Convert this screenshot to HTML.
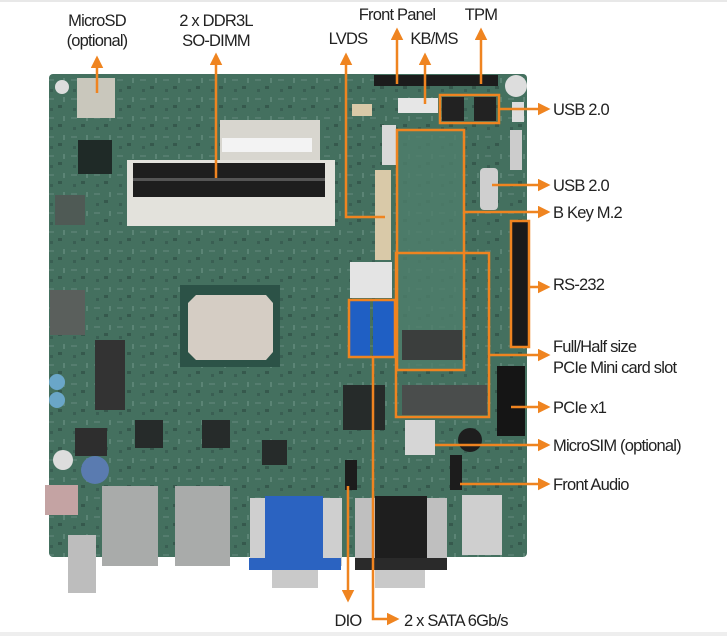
<!DOCTYPE html>
<html><head><meta charset="utf-8"><style>
html,body{margin:0;padding:0;background:#fff;}
svg{display:block}
text{font-family:"Liberation Sans",Arial,sans-serif;font-size:16.5px;fill:#222;letter-spacing:-0.8px}
</style></head><body>
<svg width="727" height="636" viewBox="0 0 727 636" xmlns="http://www.w3.org/2000/svg">
<defs>
<marker id="a" viewBox="0 0 10 10" refX="8" refY="5" markerWidth="5" markerHeight="5" orient="auto-start-reverse"><path d="M0,0 L10,5 L0,10 z" fill="#ef8420"/></marker>
<pattern id="tex" width="23" height="19" patternUnits="userSpaceOnUse">
<rect width="23" height="19" fill="#44705f"/>
<rect x="2" y="3" width="6" height="2" fill="#557d6f"/>
<rect x="12" y="10" width="4" height="3" fill="#36594d"/>
<rect x="17" y="2" width="2" height="5" fill="#5b8475"/>
<rect x="4" y="13" width="3" height="3" fill="#3a5f53"/>
</pattern>
</defs>
<rect x="0" y="0" width="727" height="2" fill="#e8e8e8"/>
<rect x="0" y="632" width="727" height="4" fill="#eeeeee"/>
<!-- board -->
<rect x="49" y="74" width="478" height="483" rx="4" fill="url(#tex)"/>
<rect x="396" y="130" width="68" height="240" fill="#4f7e6c" opacity="0.8"/>
<!-- microSD -->
<rect x="77" y="78" width="38" height="40" fill="#c9c7bc"/>
<rect x="55" y="80" width="14" height="14" rx="7" fill="#ddd"/>
<rect x="78" y="140" width="34" height="34" fill="#1f2a27"/>
<rect x="55" y="195" width="30" height="30" fill="#4f5a55"/>
<!-- DDR -->
<rect x="127" y="160" width="208" height="66" fill="#e3e2dc"/>
<rect x="133" y="163" width="192" height="34" fill="#1e1e1e"/>
<rect x="133" y="178" width="192" height="3" fill="#555"/>
<rect x="220" y="120" width="100" height="40" fill="#d8d6cf"/>
<rect x="222" y="138" width="90" height="14" fill="#f3f3f3"/>
<!-- LVDS connector -->
<rect x="375" y="170" width="16" height="90" fill="#d9c9a8"/>
<rect x="382" y="125" width="14" height="40" fill="#d9d9d9"/>
<!-- top headers -->
<rect x="374" y="75" width="124" height="11" fill="#1c1c1c"/>
<rect x="398" y="98" width="40" height="15" fill="#e6e6e6"/>
<rect x="352" y="104" width="20" height="12" fill="#d9c9a8"/>
<rect x="442" y="97" width="22" height="24" fill="#222"/>
<rect x="474" y="97" width="22" height="24" fill="#222"/>
<rect x="505" y="75" width="22" height="22" rx="11" fill="#ddd"/>
<rect x="512" y="102" width="12" height="20" fill="#ddd"/>
<rect x="480" y="168" width="18" height="42" rx="4" fill="#cfcfcf"/>
<rect x="510" y="130" width="12" height="40" fill="#ccc"/>
<!-- RS232 header -->
<rect x="512" y="221" width="16" height="126" fill="#1a1a1a"/>
<!-- PCIe x1 -->
<rect x="497" y="366" width="28" height="70" fill="#151515"/>
<!-- mini card slots -->
<rect x="402" y="330" width="60" height="30" fill="#3b3e3d"/>
<rect x="402" y="385" width="85" height="30" fill="#4a4d4c"/>
<rect x="405" y="420" width="30" height="35" fill="#d6d6d6"/>
<circle cx="470" cy="440" r="12" fill="#1e1e1e"/>
<!-- SATA -->
<rect x="350" y="262" width="42" height="36" fill="#e4e4e4"/>
<rect x="350" y="301" width="20" height="56" fill="#1f5fc4"/>
<rect x="373" y="301" width="21" height="56" fill="#1f5fc4"/>
<!-- CPU -->
<rect x="180" y="285" width="100" height="82" fill="#2c5247"/>
<path d="M196,295 L266,295 L273,303 L273,352 L266,360 L196,360 L188,352 L188,303 z" fill="#d5cdc4"/>
<!-- chips -->
<rect x="343" y="385" width="42" height="45" fill="#262b2a"/>
<rect x="135" y="420" width="28" height="28" fill="#262b2a"/>
<rect x="202" y="420" width="28" height="28" fill="#262b2a"/>
<rect x="262" y="440" width="25" height="25" fill="#262b2a"/>
<rect x="50" y="290" width="35" height="45" fill="#5a5f5c"/>
<rect x="95" y="340" width="30" height="70" fill="#333"/>
<rect x="75" y="428" width="32" height="28" fill="#2e2e2e"/>
<circle cx="57" cy="382" r="8" fill="#6aa6c8"/>
<circle cx="57" cy="400" r="8" fill="#6aa6c8"/>
<circle cx="95" cy="470" r="14" fill="#5a7bb0"/>
<circle cx="63" cy="460" r="10" fill="#ddd"/>
<!-- bottom connectors -->
<rect x="45" y="485" width="33" height="30" fill="#c4a3a3"/>
<rect x="68" y="535" width="28" height="58" fill="#bdbdbd"/>
<rect x="102" y="486" width="56" height="80" fill="#a9abaa"/>
<rect x="175" y="486" width="55" height="80" fill="#a9abaa"/>
<rect x="250" y="498" width="92" height="68" fill="#cfcfcf"/>
<rect x="265" y="496" width="58" height="70" fill="#2b63c1"/>
<rect x="249" y="558" width="92" height="12" fill="#2b63c1"/>
<rect x="272" y="570" width="46" height="18" fill="#c9c9c9"/>
<rect x="355" y="498" width="92" height="68" fill="#bfbfbf"/>
<rect x="375" y="496" width="52" height="68" fill="#1e1e1e"/>
<rect x="355" y="558" width="92" height="12" fill="#2a2a2a"/>
<rect x="375" y="570" width="50" height="18" fill="#c9c9c9"/>
<rect x="462" y="495" width="40" height="60" fill="#cfcfcf"/>
<rect x="345" y="460" width="12" height="30" fill="#1c1c1c"/>
<rect x="450" y="455" width="12" height="35" fill="#1c1c1c"/>

<!-- orange callouts -->
<g stroke="#ef8420" stroke-width="2.5" fill="none">
<rect x="440" y="95" width="59" height="28"/>
<rect x="397" y="130" width="67" height="240"/>
<rect x="396" y="253" width="93" height="164"/>
<rect x="511" y="221" width="18" height="126"/>
<rect x="349" y="300" width="46" height="57"/>
<path d="M97,93 V58" marker-end="url(#a)"/>
<path d="M216,178 V55" marker-end="url(#a)"/>
<path d="M385,217 H346 V55" marker-end="url(#a)"/>
<path d="M397,84 V30" marker-end="url(#a)"/>
<path d="M425,104 V55" marker-end="url(#a)"/>
<path d="M481,84 V30" marker-end="url(#a)"/>
<path d="M499,109 H548" marker-end="url(#a)"/>
<path d="M492,185 H548" marker-end="url(#a)"/>
<path d="M464,212 H548" marker-end="url(#a)"/>
<path d="M529,287 H548" marker-end="url(#a)"/>
<path d="M489,355 H548" marker-end="url(#a)"/>
<path d="M511,407 H548" marker-end="url(#a)"/>
<path d="M435,445 H548" marker-end="url(#a)"/>
<path d="M460,484 H548" marker-end="url(#a)"/>
<path d="M348,486 V600" marker-end="url(#a)"/>
<path d="M373,357 V619 H397" marker-end="url(#a)"/>
</g>

<!-- labels -->
<text x="97" y="26" text-anchor="middle">MicroSD</text>
<text x="97" y="46" text-anchor="middle">(optional)</text>
<text x="216" y="26" text-anchor="middle">2 x DDR3L</text>
<text x="216" y="46" text-anchor="middle">SO-DIMM</text>
<text x="348" y="44" text-anchor="middle">LVDS</text>
<text x="397" y="20" text-anchor="middle">Front Panel</text>
<text x="434" y="44" text-anchor="middle">KB/MS</text>
<text x="481" y="20" text-anchor="middle">TPM</text>
<text x="553" y="115">USB 2.0</text>
<text x="553" y="191">USB 2.0</text>
<text x="553" y="218">B Key M.2</text>
<text x="553" y="290">RS-232</text>
<text x="553" y="352">Full/Half size</text>
<text x="553" y="373">PCIe Mini card slot</text>
<text x="553" y="413">PCIe x1</text>
<text x="553" y="451">MicroSIM (optional)</text>
<text x="553" y="490">Front Audio</text>
<text x="348" y="626" text-anchor="middle">DIO</text>
<text x="404" y="626">2 x SATA 6Gb/s</text>
</svg>
</body></html>
